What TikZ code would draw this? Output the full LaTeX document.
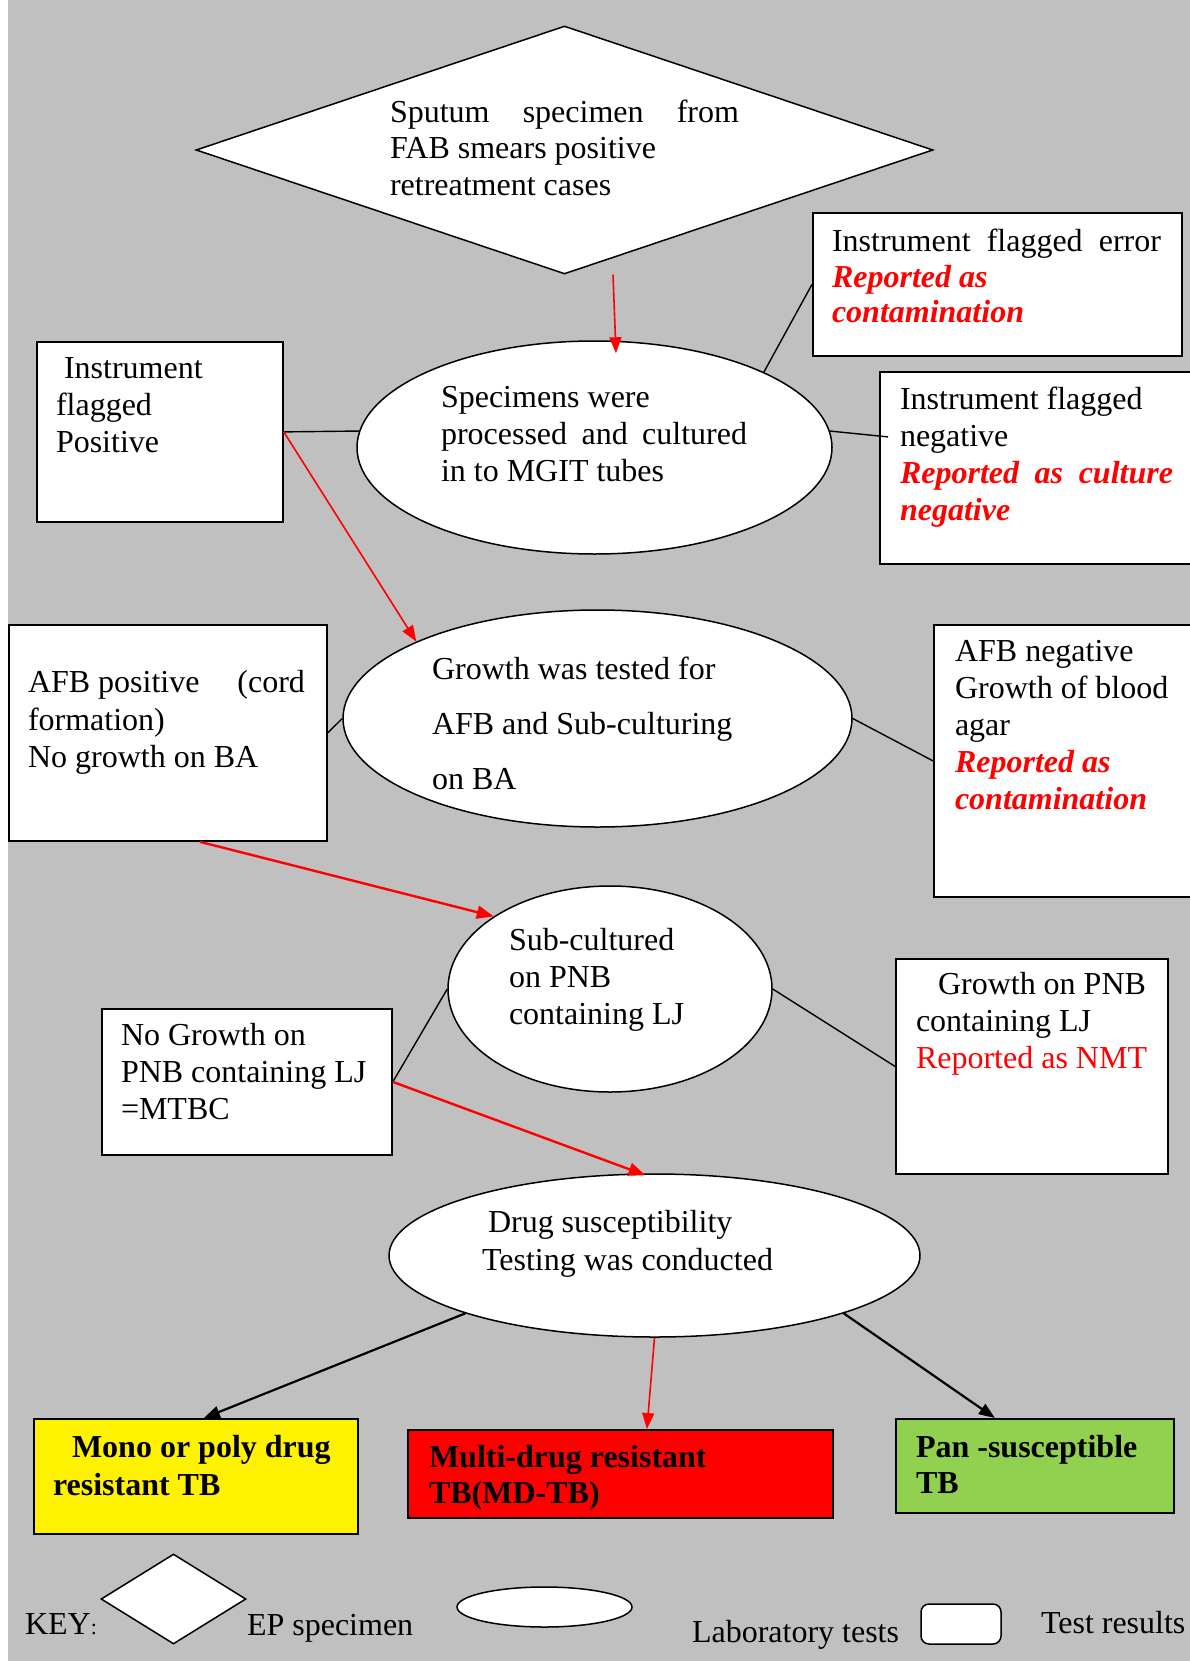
\documentclass[tikz,border=0pt]{standalone}
\usepackage{fontspec}
\setmainfont{Liberation Serif}
\usetikzlibrary{shapes.geometric,arrows.meta}
\definecolor{bggray}{HTML}{C0C0C0}
\definecolor{pangreen}{HTML}{92D050}
\newcommand\myfs[1]{\fontsize{32pt}{#1pt}\selectfont}
\newcommand\redbi[1]{\textcolor{red}{\bfseries\itshape #1}}
\begin{document}
\begin{tikzpicture}[x=1pt,y=-1pt,
  box/.style={draw, line width=1.8pt, fill=white, rectangle, anchor=north west, inner sep=0pt},
  oval/.style={draw, line width=1.5pt, fill=white, ellipse, inner sep=0pt},
  txt/.style={inner sep=0pt, outer sep=0pt, anchor=north west, align=left},
  ktxt/.style={inner sep=0pt, outer sep=0pt, anchor=base west, font=\myfs{37}},
  link/.style={line width=1.4pt},
  redarr/.style={color=red, line width=1.6pt, -{Triangle[length=16pt,width=12pt]}},
  redarrb/.style={color=red, line width=2.4pt, -{Triangle[length=17pt,width=13pt]}},
  blkarr/.style={line width=2.2pt, -{Triangle[length=16pt,width=12pt]}}]
\useasboundingbox (0,0) rectangle (1190,1661);
\fill[white] (0,0) rectangle (1190,1661);
\fill[bggray] (7.5,0) rectangle (1190,1661);

% shapes
\node[draw, diamond, fill=white, line width=1.5pt, minimum width=737pt, minimum height=248pt, inner sep=0pt] (dia) at (564.5,150) {};
\node[oval, minimum width=475pt, minimum height=213pt] (e1) at (594.5,447.5) {};
\node[box, minimum width=369pt, minimum height=143pt] (err) at (812,212) {};
\node[box, minimum width=340pt, minimum height=192pt] (neg) at (879,371) {};
\node[box, minimum width=246pt, minimum height=180pt] (pos) at (36,341) {};
\node[oval, minimum width=509pt, minimum height=217pt] (e2) at (597.5,718.5) {};
\node[box, minimum width=318pt, minimum height=216pt] (afbp) at (8,624) {};
\node[box, minimum width=280pt, minimum height=272pt] (afbn) at (933,624) {};
\node[oval, minimum width=324pt, minimum height=206pt] (e3) at (610,989) {};
\node[box, minimum width=290pt, minimum height=146pt] (nog) at (101,1008) {};
\node[box, minimum width=272pt, minimum height=215pt] (pnb) at (895,958) {};
\node[oval, minimum width=531pt, minimum height=163pt] (e4) at (654.5,1255.5) {};
\node[box, fill=yellow, minimum width=324pt, minimum height=115pt] (mono) at (33,1418) {};
\node[box, fill=red, minimum width=425pt, minimum height=88pt] (mdr) at (407,1429) {};
\node[box, fill=pangreen, minimum width=278pt, minimum height=94pt] (pan) at (895,1418) {};

% key shapes
\node[draw, diamond, fill=white, line width=1.5pt, minimum width=145pt, minimum height=90pt, inner sep=0pt] (kd) at (173.5,1599) {};
\node[oval, minimum width=175pt, minimum height=40pt] (ke) at (544.5,1607) {};
\node[draw, fill=white, line width=1.5pt, rounded corners=8pt, minimum width=80pt, minimum height=40pt, inner sep=0pt] (kr) at (961,1624) {};

% connectors
\draw[redarr] ([shift={(48.5,0)}]dia.south) -- ([shift={(21.5,13)}]e1.north);
\draw[link] (pos.east) -- (e1.176);
\draw[redarr] (pos.east) -- (e2.157);
\draw[link] (e1.24) -- (err.west);
\draw[link] (e1.4) -- ([shift={(9,-31)}]neg.west);
\draw[link] (afbp.east) -- (e2.west);
\draw[link] (e2.east) -- (afbn.west);
\draw[redarrb] ([shift={(32,0)}]afbp.south) -- (e3.148);
\draw[link] (nog.east) -- (e3.west);
\draw[link] (e3.east) -- (pnb.west);
\draw[redarrb] (nog.east) -- ([shift={(-9,2)}]e4.north);
\draw[blkarr] (e4.197) -- ([shift={(8,0)}]mono.north);
\draw[redarr] (e4.south) -- ([shift={(26.5,0)}]mdr.north);
\draw[blkarr] (e4.343) -- ([shift={(-40,0)}]pan.north);

% texts
\node[txt, font=\myfs{36.5}] (t1) at (390,96.5) {\strut\makebox[349pt][s]{Sputum specimen from}\\FAB smears positive\\retreatment cases};
\node[txt, font=\myfs{37}] (t2) at (441,382) {\strut Specimens were\\\makebox[306pt][s]{processed and cultured}\\in to MGIT tubes};
\node[txt, font=\myfs{35.5}] (t3) at (832,227) {\strut\makebox[329pt][s]{Instrument flagged error}\\\redbi{Reported as}\\\redbi{contamination}};
\node[txt, font=\myfs{37}] (t4) at (900,384) {\strut Instrument flagged\\negative\\\redbi{\makebox[273pt][s]{Reported as culture}}\\\redbi{negative}};
\node[txt, font=\myfs{37}] (t5) at (56,353) {\strut\hspace*{8pt}Instrument\\flagged\\Positive};
\node[txt, font=\myfs{55}] (t6) at (432,640.5) {\strut Growth was tested for\\AFB and Sub-culturing\\on BA};
\node[txt, font=\myfs{37.5}] (t7) at (28,666.7) {\strut\makebox[277pt][s]{AFB positive\hfill(cord}\\formation)\\No growth on BA};
\node[txt, font=\myfs{37}] (t8) at (955,636) {\strut AFB negative\\Growth of blood\\agar\\\redbi{Reported as}\\\redbi{contamination}};
\node[txt, font=\myfs{37}] (t9) at (509,925) {\strut Sub-cultured\\on PNB\\containing LJ};
\node[txt, font=\myfs{37}] (t10) at (121,1020) {\strut No Growth on\\PNB containing LJ\\=MTBC};
\node[txt, font=\myfs{37}] (t11) at (916,969) {\strut\hspace*{22pt}Growth on PNB\\containing LJ\\\textcolor{red}{Reported as NMT}};
\node[txt, font=\myfs{38}] (t12) at (482,1205.4) {\strut\hspace*{6pt}Drug susceptibility\\Testing was conducted};
\node[txt, font=\myfs{38}\bfseries] (t13) at (53,1430.4) {\strut\hspace*{19pt}Mono or poly drug\\resistant TB};
\node[txt, font=\myfs{36}\bfseries] (t14) at (429,1441.8) {\strut Multi-drug resistant\\TB(MD-TB)};
\node[txt, font=\myfs{36}\bfseries] (t15) at (916,1431.8) {\strut Pan -susceptible\\TB};

% key texts
\node[ktxt] (k1) at (25,1634) {KEY{\fontsize{22pt}{26pt}\selectfont:}};
\node[ktxt] (k2) at (247,1635) {EP specimen};
\node[ktxt] (k3) at (692,1642) {Laboratory tests};
\node[ktxt] (k4) at (1041,1633) {Test results};
\end{tikzpicture}
\end{document}
